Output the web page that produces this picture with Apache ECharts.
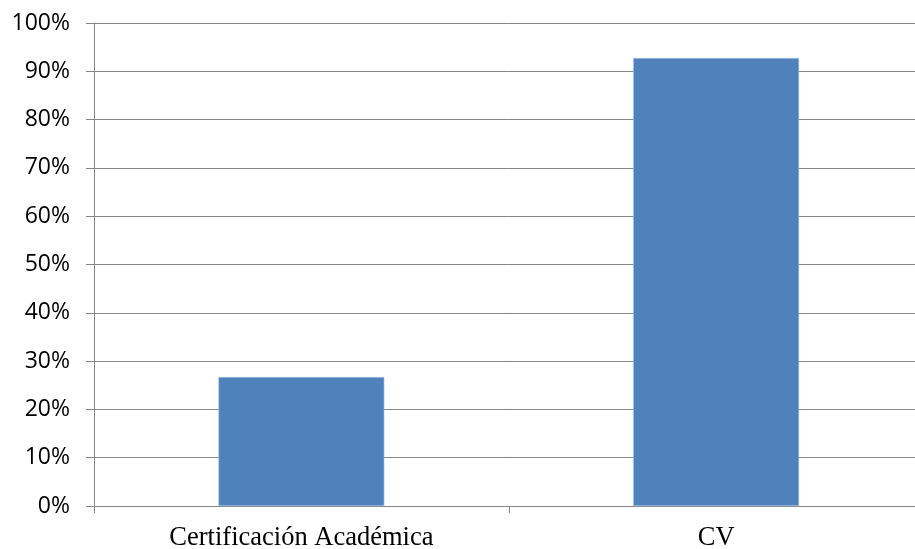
<!DOCTYPE html>
<html><head><meta charset="utf-8">
<script src="https://cdn.jsdelivr.net/npm/echarts@6/dist/echarts.min.js"></script>
<style>html,body{margin:0;padding:0;background:#fff;overflow:hidden;width:915px;height:549px}#c{width:925px;height:549px}</style>
</head><body><div id="c"></div>
<script>
const categories = ["Certificación Académica", "CV"];
const values = [26.7, 92.75];
const yTicks = [0, 10, 20, 30, 40, 50, 60, 70, 80, 90, 100];

const chart = echarts.init(document.getElementById('c'), null, {renderer: 'canvas'});
chart.setOption({
  animation: false,
  backgroundColor: '#fff',
  grid: {left: 94, right: 1.5, top: 23, bottom: 43, containLabel: false, outerBoundsMode: 'none'},
  xAxis: {
    type: 'category',
    data: categories,
    axisLine: {lineStyle: {color: '#868686', width: 1}},
    axisTick: {show: true, alignWithLabel: false, length: 7, lineStyle: {color: '#868686'}},
    axisLabel: {color: '#000', fontFamily: 'Liberation Serif', fontSize: 26.5, margin: 19},
    splitLine: {show: false}
  },
  yAxis: {
    type: 'value',
    min: yTicks[0], max: yTicks[yTicks.length - 1], interval: 10,
    axisLine: {show: true, lineStyle: {color: '#868686', width: 1}},
    axisTick: {show: true, length: 8, lineStyle: {color: '#868686'}},
    axisLabel: {color: '#000', fontFamily: 'Open Sans', fontSize: 23, margin: 24, formatter: v => v + '%'},
    splitLine: {show: true, lineStyle: {color: '#868686', width: 1}}
  },
  series: [{
    type: 'bar',
    data: values,
    barWidth: '40%',
    itemStyle: {color: '#4F81BD', borderColor: '#A9C4E4', borderWidth: 0.6}
  }]
});
</script></body></html>
